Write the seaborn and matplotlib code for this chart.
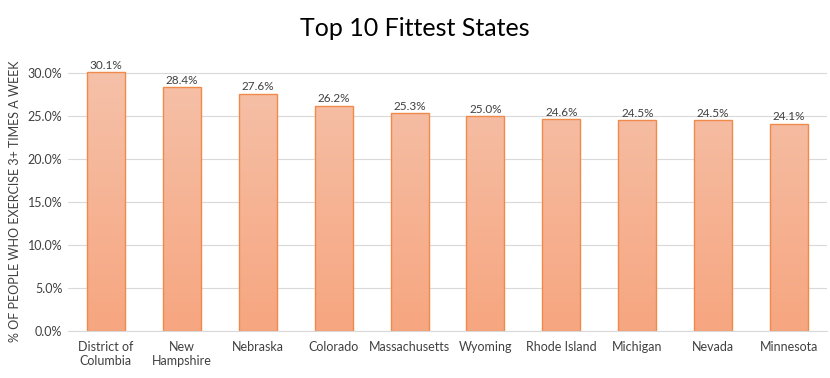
import matplotlib
matplotlib.use("Agg")
import matplotlib.pyplot as plt
import seaborn as sns
import numpy as np
import pandas as pd
from matplotlib.colors import LinearSegmentedColormap
from matplotlib.ticker import PercentFormatter

states = ["District of\nColumbia", "New\nHampshire", "Nebraska", "Colorado", "Massachusetts",
          "Wyoming", "Rhode Island", "Michigan", "Nevada", "Minnesota"]
values = [30.1, 28.4, 27.6, 26.2, 25.3, 25.0, 24.6, 24.5, 24.5, 24.1]
ytick_vals = [0, 5, 10, 15, 20, 25, 30]

df = pd.DataFrame({"state": states, "pct": values})

sns.set_style("white")
plt.rcParams["font.family"] = ["Lato", "DejaVu Sans"]

fig = plt.figure(figsize=(8.3, 3.78), dpi=100)
ax = fig.add_axes([0.0819, 0.1243, 0.9145, 0.687])

sns.barplot(data=df, x="state", y="pct", ax=ax, color="#F6B592", width=0.5,
            edgecolor="#F08A4B", linewidth=1.0, saturation=1)

# gradient fill
cmap = LinearSegmentedColormap.from_list("g", ["#F7A680", "#F5C1A9"])
grad = np.linspace(0, 1, 256).reshape(-1, 1)
for p in ax.patches:
    x0 = p.get_x()
    w = p.get_width()
    im = ax.imshow(grad, extent=[x0, x0 + w, 0, max(values)], origin="lower", cmap=cmap,
                   aspect="auto", zorder=p.get_zorder() + 0.1)
    im.set_clip_path(p)
    p.set_facecolor("none")
    p.set_zorder(p.get_zorder() + 0.2)
ax.set_xlim(-0.5, len(states) - 0.5)
ax.set_ylim(0, 30.2)

ax.set_yticks(ytick_vals)
ax.yaxis.set_major_formatter(PercentFormatter(100, decimals=1))
ax.grid(axis="y", color="#D9D9D9", linewidth=0.8)
ax.set_axisbelow(True)
for s in ["top", "right", "left"]:
    ax.spines[s].set_visible(False)
ax.spines["bottom"].set_color("#D9D9D9")
ax.spines["bottom"].set_linewidth(0.8)
ax.tick_params(axis="both", length=0, labelsize=9, colors="#404040", pad=7)
ax.tick_params(axis="y", pad=4)
ax.set_xlabel("")
ax.set_ylabel("% OF PEOPLE WHO EXERCISE 3+ TIMES A WEEK", fontsize=9, color="#404040", labelpad=5)

for i, v in enumerate(values):
    ax.text(i, v + 0.15, f"{v:.1f}%", ha="center", va="bottom", fontsize=8.5, color="#404040")

fig.suptitle("Top 10 Fittest States", fontsize=18, color="#000000", y=0.955)

fig.savefig("out.png", dpi=100)
